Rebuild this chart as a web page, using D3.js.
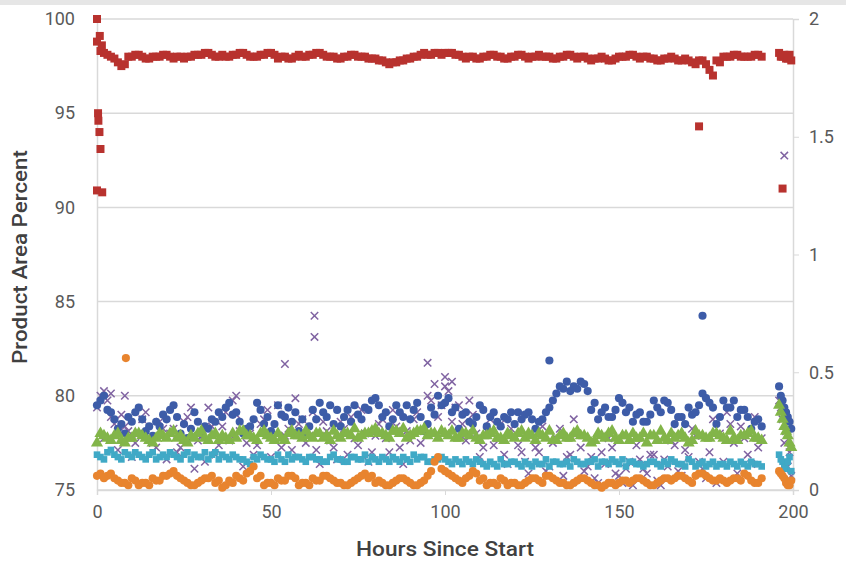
<!DOCTYPE html>
<html lang="en">
<head>
<meta charset="UTF-8">
<title>Product Area Percent</title>
<style>
  body { margin: 0; background: #fff; }
  svg text { font-family: Roboto, "Noto Sans", sans-serif; fill: #595959; }
  .tick text { font-size: 18px; }
  .title { font-size: 20px; font-weight: 500; fill: #404040; }
</style>
</head>
<body>
<script src="https://cdn.jsdelivr.net/npm/d3@7/dist/d3.min.js"></script>
<script>
// sample hours (odd set and even set)
var hours = [
  1,3,5,7,9,11,13,15,17,19,
  21,23,25,27,29,31,33,35,37,39,
  41,43,45,47,49,51,53,55,57,59,
  61,63,65,67,69,71,73,75,77,79,
  81,83,85,87,89,91,93,95,97,99,
  101,103,105,107,109,111,113,115,117,119,
  121,123,125,127,129,131,133,135,137,139,
  141,143,145,147,149,151,153,155,157,159,
  161,163,165,167,169,171,173,175,177,179,
  181,183,185,187,189,191,196,197,198,199
]
var hours2 = [
  0,2,4,6,8,10,12,14,16,18,
  20,22,24,26,28,30,32,34,36,38,
  40,42,44,46,48,50,52,54,56,58,
  60,62,64,66,68,70,72,74,76,78,
  80,82,84,86,88,90,92,94,96,98,
  100,102,104,106,108,110,112,114,116,118,
  120,122,124,126,128,130,132,134,136,138,
  140,142,144,146,148,150,152,154,156,158,
  160,162,164,166,168,170,172,174,176,178,
  180,182,184,186,188,190,196.5,197.5,198.5,199.5
]

// left axis series (product area %)
var red = [
  98.3,98.1,97.9,97.5,98.0,98.1,98.0,97.9,98.0,98.1,
  98.0,98.0,97.9,98.0,98.1,98.2,98.1,98.0,98.0,98.1,
  98.2,98.1,98.0,98.1,98.2,98.1,98.0,97.9,98.0,98.0,
  98.1,98.2,98.1,98.0,97.9,98.0,98.1,98.0,98.0,97.9,
  97.8,97.7,97.7,97.8,97.9,98.0,98.1,98.1,98.2,98.1,
  98.2,98.1,98.0,98.0,97.9,98.0,98.1,98.0,97.9,98.0,
  98.1,98.0,98.0,98.1,98.0,97.9,98.0,98.1,98.0,98.0,
  97.9,97.9,98.0,97.8,97.9,98.0,98.1,98.0,98.0,97.9,
  97.8,97.9,98.0,97.8,97.9,97.7,97.8,97.6,97.0,97.7,
  98.0,98.1,98.0,98.0,98.1,98.0,98.2,98.0,97.9,98.1
]
var red2 = [
  98.8,98.2,98.0,97.7,97.6,98.0,98.1,97.9,98.0,98.0,
  98.1,97.9,98.0,98.0,98.1,98.1,98.2,98.0,98.1,98.0,
  98.1,98.2,98.0,98.0,98.1,98.2,97.9,98.0,97.9,98.1,
  98.0,98.1,98.2,98.0,98.0,97.9,98.0,98.1,98.0,97.9,
  97.9,97.8,97.6,97.7,97.8,97.9,98.0,98.2,98.1,98.2,
  98.2,98.2,98.1,97.9,98.0,97.9,98.0,98.1,98.0,97.9,
  98.0,98.1,97.9,98.0,98.0,98.0,97.9,98.0,98.1,97.9,
  98.0,97.8,97.9,97.9,97.8,98.0,98.0,98.1,97.9,98.0,
  97.9,97.8,97.9,97.9,97.8,97.8,97.6,97.8,97.3,97.8,
  98.0,98.0,98.1,98.0,98.0,98.1,98.0,98.1,97.9,97.8
]
var redExtra = [[0,100],[0.8,99.1],[1.4,98.6],[0.3,95.0],[0.4,94.6],[0.7,94.0],[1,93.1],
  [0,90.9],[1.5,90.8],[173,94.3],[197,91.0]]

// right axis series
var blue = [
  0.38,0.34,0.30,0.28,0.31,0.33,0.30,0.27,0.29,0.32,
  0.34,0.31,0.28,0.26,0.29,0.27,0.30,0.33,0.35,0.32,
  0.29,0.26,0.30,0.34,0.31,0.28,0.32,0.35,0.33,0.30,
  0.27,0.30,0.33,0.36,0.34,0.31,0.29,0.32,0.35,0.38,
  0.36,0.33,0.30,0.33,0.36,0.34,0.31,0.28,0.32,0.36,
  0.39,0.35,0.32,0.29,0.31,0.34,0.31,0.29,0.31,0.33,
  0.33,0.32,0.30,0.29,0.33,0.38,0.44,0.46,0.44,0.46,
  0.42,0.37,0.33,0.31,0.34,0.37,0.35,0.32,0.29,0.32,
  0.35,0.38,0.34,0.31,0.28,0.32,0.36,0.39,0.35,0.31,
  0.35,0.38,0.34,0.31,0.29,0.27,0.44,0.38,0.33,0.29
]
var blue2 = [
  0.36,0.40,0.33,0.26,0.24,0.29,0.35,0.25,0.23,0.27,
  0.30,0.36,0.24,0.22,0.33,0.24,0.26,0.29,0.31,0.37,
  0.33,0.24,0.27,0.37,0.28,0.25,0.36,0.31,0.29,0.25,
  0.24,0.34,0.37,0.31,0.28,0.27,0.34,0.36,0.30,0.34,
  0.39,0.31,0.27,0.36,0.31,0.30,0.37,0.25,0.35,0.40,
  0.37,0.33,0.26,0.33,0.28,0.36,0.27,0.33,0.27,0.30,
  0.28,0.30,0.33,0.26,0.30,0.35,0.41,0.43,0.42,0.43,
  0.45,0.34,0.30,0.35,0.31,0.39,0.33,0.29,0.33,0.29,
  0.38,0.33,0.37,0.28,0.31,0.35,0.33,0.41,0.37,0.28,
  0.38,0.35,0.31,0.34,0.26,0.30,0.40,0.35,0.31,0.26
]
var blueExtra = [[130,0.55],[174,0.74]]

var purple = [
  0.40,0.38,0.28,0.32,0.25,0.20,0.30,0.22,0.18,0.26,
  0.24,0.16,0.29,0.35,0.21,0.12,0.27,0.19,0.33,0.38,
  0.25,0.20,0.15,0.28,0.34,0.22,0.18,0.26,0.39,0.30,
  0.23,0.17,0.29,0.21,0.13,0.26,0.31,0.19,0.24,0.16,
  0.28,0.22,0.34,0.18,0.25,0.30,0.20,0.40,0.45,0.36,
  0.42,0.35,0.28,0.38,0.24,0.18,0.30,0.22,0.15,0.26,
  0.19,0.12,0.24,0.16,0.08,0.20,0.26,0.14,0.30,0.18,
  0.10,0.05,0.16,0.22,0.07,0.03,0.12,0.19,0.09,0.15,
  0.04,0.13,0.21,0.08,0.17,0.26,0.12,0.05,0.30,0.24,
  0.33,0.20,0.27,0.15,0.31,0.22,0.38,0.30,0.25,0.16
]
var purple2 = [
  0.35,0.22,0.31,0.17,0.27,0.14,0.24,0.33,0.20,0.29,
  0.13,0.26,0.18,0.31,0.09,0.23,0.35,0.15,0.27,0.21,
  0.32,0.10,0.24,0.19,0.30,0.14,0.36,0.23,0.17,0.28,
  0.20,0.33,0.11,0.25,0.18,0.29,0.15,0.22,0.34,0.12,
  0.23,0.30,0.16,0.27,0.11,0.21,0.33,0.25,0.38,0.31,
  0.44,0.29,0.36,0.21,0.32,0.14,0.25,0.19,0.28,0.11,
  0.23,0.16,0.07,0.18,0.27,0.10,0.22,0.06,0.15,0.24,
  0.08,0.14,0.03,0.11,0.18,0.06,0.09,0.02,0.13,0.07,
  0.15,0.02,0.10,0.19,0.06,0.14,0.23,0.09,0.16,0.03,
  0.12,0.28,0.07,0.22,0.11,0.18,0.35,0.20,0.10,0.06
]
var purpleExtra = [[2,0.42],[4,0.41],[8,0.40],[40,0.40],[54,0.535],[62.5,0.74],[62.5,0.65],
  [95,0.54],[100,0.48],[102,0.46],[197.5,1.42]]

var cyan = [
  0.14,0.16,0.15,0.13,0.15,0.16,0.14,0.15,0.13,0.15,
  0.16,0.14,0.15,0.13,0.14,0.16,0.15,0.13,0.14,0.15,
  0.13,0.12,0.14,0.15,0.13,0.12,0.13,0.15,0.14,0.13,
  0.14,0.13,0.12,0.14,0.13,0.12,0.14,0.13,0.15,0.14,
  0.12,0.13,0.14,0.12,0.13,0.15,0.14,0.12,0.13,0.14,
  0.12,0.13,0.11,0.12,0.13,0.11,0.12,0.10,0.11,0.12,
  0.11,0.12,0.10,0.11,0.13,0.12,0.11,0.12,0.13,0.11,
  0.12,0.13,0.12,0.11,0.12,0.13,0.12,0.11,0.10,0.12,
  0.11,0.12,0.13,0.11,0.10,0.12,0.11,0.10,0.12,0.11,
  0.10,0.11,0.12,0.10,0.11,0.10,0.15,0.12,0.09,0.14
]
var cyan2 = [
  0.15,0.13,0.17,0.14,0.16,0.14,0.15,0.13,0.16,0.14,
  0.14,0.15,0.13,0.16,0.15,0.14,0.13,0.16,0.15,0.13,
  0.14,0.13,0.11,0.13,0.14,0.13,0.15,0.12,0.13,0.14,
  0.12,0.14,0.13,0.12,0.15,0.13,0.12,0.14,0.13,0.12,
  0.13,0.14,0.12,0.13,0.14,0.12,0.13,0.14,0.12,0.13,
  0.13,0.11,0.12,0.13,0.11,0.12,0.10,0.11,0.13,0.11,
  0.12,0.10,0.11,0.12,0.11,0.10,0.12,0.11,0.10,0.12,
  0.11,0.12,0.10,0.12,0.13,0.11,0.10,0.12,0.11,0.11,
  0.12,0.10,0.11,0.12,0.11,0.13,0.10,0.12,0.11,0.10,
  0.11,0.12,0.10,0.11,0.12,0.11,0.13,0.10,0.12,0.08
]

var green = [
  0.24,0.22,0.23,0.21,0.22,0.24,0.23,0.21,0.22,0.23,
  0.24,0.22,0.21,0.23,0.24,0.22,0.23,0.21,0.22,0.24,
  0.25,0.23,0.22,0.24,0.23,0.21,0.22,0.24,0.23,0.22,
  0.23,0.24,0.22,0.21,0.23,0.24,0.23,0.22,0.24,0.25,
  0.24,0.23,0.25,0.24,0.22,0.24,0.25,0.23,0.24,0.25,
  0.23,0.22,0.24,0.23,0.22,0.23,0.24,0.22,0.21,0.23,
  0.24,0.22,0.23,0.24,0.22,0.21,0.23,0.22,0.24,0.23,
  0.22,0.21,0.23,0.24,0.22,0.23,0.21,0.22,0.24,0.23,
  0.21,0.22,0.24,0.23,0.22,0.21,0.23,0.22,0.24,0.23,
  0.21,0.22,0.23,0.24,0.22,0.21,0.36,0.30,0.25,0.20
]
var green2 = [
  0.20,0.23,0.21,0.24,0.20,0.22,0.24,0.22,0.20,0.24,
  0.22,0.25,0.23,0.20,0.22,0.25,0.21,0.24,0.23,0.21,
  0.22,0.25,0.23,0.21,0.25,0.22,0.24,0.21,0.25,0.23,
  0.25,0.22,0.24,0.23,0.25,0.22,0.24,0.26,0.23,0.24,
  0.26,0.24,0.22,0.25,0.26,0.23,0.25,0.26,0.24,0.22,
  0.24,0.25,0.22,0.24,0.25,0.21,0.23,0.25,0.22,0.24,
  0.22,0.25,0.24,0.21,0.23,0.25,0.21,0.24,0.22,0.25,
  0.23,0.20,0.24,0.22,0.25,0.21,0.23,0.24,0.22,0.20,
  0.23,0.25,0.21,0.22,0.24,0.20,0.25,0.23,0.22,0.24,
  0.22,0.25,0.21,0.23,0.25,0.22,0.33,0.27,0.23,0.18
]

var orange = [
  0.07,0.06,0.05,0.03,0.02,0.04,0.03,0.02,0.04,0.06,
  0.07,0.06,0.04,0.02,0.03,0.05,0.06,0.04,0.02,0.03,
  0.05,0.07,0.10,0.06,0.03,0.02,0.04,0.06,0.05,0.03,
  0.02,0.04,0.06,0.05,0.03,0.02,0.03,0.05,0.07,0.06,
  0.04,0.02,0.03,0.05,0.04,0.02,0.03,0.06,0.12,0.09,
  0.07,0.05,0.03,0.06,0.07,0.05,0.03,0.02,0.04,0.03,
  0.02,0.03,0.05,0.04,0.06,0.05,0.03,0.02,0.03,0.05,
  0.04,0.02,0.01,0.03,0.02,0.04,0.03,0.05,0.04,0.02,
  0.03,0.05,0.04,0.06,0.05,0.03,0.07,0.06,0.04,0.05,
  0.03,0.05,0.04,0.06,0.03,0.05,0.08,0.06,0.03,0.02
]
var orange2 = [
  0.06,0.05,0.07,0.04,0.03,0.05,0.02,0.03,0.05,0.04,
  0.06,0.08,0.05,0.03,0.02,0.04,0.05,0.03,0.01,0.04,
  0.06,0.04,0.08,0.05,0.02,0.03,0.05,0.04,0.06,0.02,
  0.03,0.05,0.04,0.06,0.04,0.03,0.02,0.04,0.06,0.05,
  0.03,0.03,0.02,0.04,0.05,0.03,0.02,0.04,0.08,0.14,
  0.08,0.06,0.04,0.05,0.08,0.04,0.02,0.03,0.05,0.02,
  0.03,0.02,0.04,0.05,0.03,0.06,0.04,0.03,0.02,0.04,
  0.05,0.03,0.02,0.02,0.03,0.03,0.04,0.04,0.05,0.03,
  0.02,0.04,0.05,0.05,0.06,0.04,0.06,0.07,0.05,0.04,
  0.04,0.04,0.05,0.07,0.04,0.03,0.07,0.05,0.02,0.04
]
var orangeExtra = [[8.3,0.56]]

var xTicks = [0, 50, 100, 150, 200]
var leftTicks = [75, 80, 85, 90, 95, 100]
var rightTicks = [0, 0.5, 1, 1.5, 2]

var width = 846, height = 567
var margin = { top: 19, right: 53, bottom: 77, left: 97 }

var svg = d3.select('body').append('svg')
  .attr('width', width)
  .attr('height', height)

// soft blur to match the scanned look of the markers
svg.append('defs').append('filter').attr('id', 'soft')
  .append('feGaussianBlur').attr('stdDeviation', 0.6)

// faint grey band of the original screenshot at the top
svg.append('rect').attr('width', width).attr('height', 5).attr('fill', '#e6e6e6')

var x = d3.scaleLinear().domain([0, 200]).range([margin.left, width - margin.right])
var yL = d3.scaleLinear().domain([75, 100]).range([height - margin.bottom, margin.top])
var yR = d3.scaleLinear().domain([0, 2]).range([height - margin.bottom, margin.top])

// gridlines
svg.append('g')
  .selectAll('line')
  .data(leftTicks)
  .enter().append('line')
  .attr('x1', margin.left).attr('x2', width - margin.right)
  .attr('y1', d => yL(d)).attr('y2', d => yL(d))
  .attr('stroke', '#d9d9d9').attr('stroke-width', 1.5)

// axes
var gx = svg.append('g')
  .attr('transform', 'translate(0,' + (height - margin.bottom) + ')')
  .call(d3.axisBottom(x).tickValues(xTicks).tickSize(5).tickPadding(10))
var gl = svg.append('g')
  .attr('transform', 'translate(' + margin.left + ',0)')
  .call(d3.axisLeft(yL).tickValues(leftTicks).tickSize(0).tickPadding(22))
var gr = svg.append('g')
  .attr('transform', 'translate(' + (width - margin.right) + ',0)')
  .call(d3.axisRight(yR).tickValues(rightTicks).tickFormat(d3.format('')).tickSize(6).tickPadding(10))

;[gx, gl, gr].forEach(g => {
  g.select('.domain').attr('stroke', '#d9d9d9').attr('stroke-width', 1.5)
  g.selectAll('.tick line').attr('stroke', '#d9d9d9')
  g.selectAll('.tick text').attr('fill', '#595959')
})

// titles
svg.append('text')
  .attr('class', 'title')
  .attr('x', 445)
  .attr('y', 556)
  .attr('text-anchor', 'middle')
  .attr('textLength', 178)
  .attr('lengthAdjust', 'spacingAndGlyphs')
  .text('Hours Since Start')
svg.append('text')
  .attr('class', 'title')
  .attr('transform', 'translate(27,257) rotate(-90)')
  .attr('text-anchor', 'middle')
  .attr('textLength', 214)
  .attr('lengthAdjust', 'spacingAndGlyphs')
  .text('Product Area Percent')

function pts(vals, vals2, extra) {
  var p = vals.map((v, i) => [hours[i], v])
    .concat(vals2.map((v, i) => [hours2[i], v]))
  return extra ? p.concat(extra) : p
}

var timesSym = d3.symbolTimes || d3.symbolX
var series = [
  { data: pts(purple, purple2, purpleExtra), y: yR, sym: timesSym, size: 38, color: '#8064a2', stroke: true },
  { data: pts(blue, blue2, blueExtra), y: yR, sym: d3.symbolCircle, size: 52, color: '#3d5ca8' },
  { data: pts(cyan, cyan2), y: yR, sym: d3.symbolSquare, size: 44, color: '#3fa9c6' },
  { data: pts(green, green2), y: yR, sym: d3.symbolTriangle, size: 64, color: '#82b548' },
  { data: pts(orange, orange2, orangeExtra), y: yR, sym: d3.symbolCircle, size: 52, color: '#e8842f' },
  { data: pts(red, red2, redExtra), y: yL, sym: d3.symbolSquare, size: 64, color: '#b8322f' }
]

series.forEach(s => {
  var path = d3.symbol().type(s.sym).size(s.size)
  svg.append('g')
    .attr('filter', 'url(#soft)')
    .selectAll('path')
    .data(s.data)
    .enter().append('path')
    .attr('transform', d => 'translate(' + x(d[0]) + ',' + s.y(d[1]) + ')')
    .attr('d', path)
    .attr('fill', s.stroke ? 'none' : s.color)
    .attr('stroke', s.stroke ? s.color : 'none')
    .attr('stroke-width', 1.5)
})
</script>
</body>
</html>
